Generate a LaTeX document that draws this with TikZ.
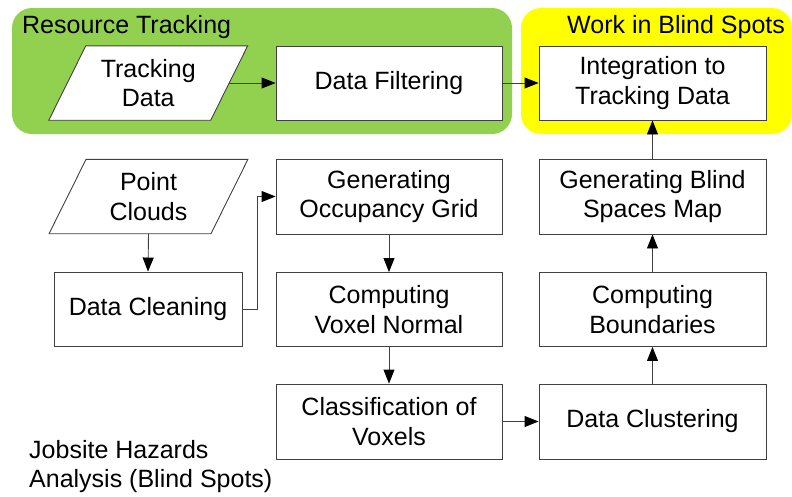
\documentclass[tikz,border=0pt]{standalone}
\usepackage{fontspec}
\setmainfont{Liberation Sans}
\usetikzlibrary{arrows.meta,calc}
\pgfdeclarelayer{bg}
\pgfdeclarelayer{mid}
\pgfsetlayers{bg,mid,main}
\definecolor{panelgreen}{RGB}{146,208,80}
\definecolor{panelyellow}{RGB}{255,255,0}
\definecolor{linegray}{RGB}{64,64,64}
\begin{document}
\begin{tikzpicture}[x=1pt,y=-1pt,
  every node/.style={font=\fontsize{25}{29.5}\selectfont, inner sep=0pt},
  stepbox/.style={draw=linegray, fill=white, line width=0.9pt, align=center,
    minimum width=226pt, minimum height=74pt},
  parabox/.style={align=center, minimum width=161.5pt, minimum height=74pt},
  paraline/.style={draw=linegray, fill=white, line width=0.9pt},
  panel/.style={rounded corners=20pt},
  conn/.style={draw=linegray, line width=0.9pt,
    -{Triangle[length=14pt,width=11pt,color=black]}},
  title/.style={anchor=base west}]
\useasboundingbox (0,0) rectangle (792,496);

% panels
\begin{pgfonlayer}{bg}
  \fill[panelgreen, panel] (12,8) rectangle (512,134);
  \fill[panelyellow, panel] (521,8) rectangle (792,134);
\end{pgfonlayer}

\node[title] (rt) at (22,33) {Resource Tracking};
\node[title] (wb) at (567,33) {Work in Blind Spots};

% top row
\node[parabox] (td) at (148.25,83) {Tracking\\Data};
\node[stepbox] (df) at (389,83) {Data Filtering};
\node[stepbox, minimum width=227pt] (ig) at (652.5,83) {Integration to\\Tracking Data};

% left column
\node[parabox] (pc) at (148.5,196.5) {Point\\Clouds};
\node[stepbox, minimum width=188pt] (dc) at (148,309) {Data Cleaning};

% middle column
\node[stepbox, minimum height=75pt] (og) at (389,196.5) {Generating\\Occupancy Grid};
\node[stepbox] (vn) at (389,309.5) {Computing\\Voxel Normal};
\node[stepbox, minimum height=75pt] (cv) at (389,421.5) {Classification of\\Voxels};

% right column
\node[stepbox, minimum width=227pt, minimum height=75pt] (bs) at (652.5,196.5) {Generating Blind\\Spaces Map};
\node[stepbox, minimum width=227pt] (cb) at (652.5,309.5) {Computing\\Boundaries};
\node[stepbox, minimum width=227pt, minimum height=75pt] (dk) at (652.5,421.5) {Data Clustering};

% parallelogram outlines
\begin{pgfonlayer}{mid}
  \draw[paraline] ([xshift=18.5pt]td.north west) -- ([xshift=18.5pt]td.north east)
    -- ([xshift=-18.5pt]td.south east) -- ([xshift=-18.5pt]td.south west) -- cycle;
  \draw[paraline] ([xshift=18.5pt]pc.north west) -- ([xshift=18.5pt]pc.north east)
    -- ([xshift=-18.5pt]pc.south east) -- ([xshift=-18.5pt]pc.south west) -- cycle;
\end{pgfonlayer}

\node[anchor=north west, align=left] (jh) at (29,440) {Jobsite Hazards\\Analysis (Blind Spots)};

% connectors
\draw[conn] (td.east) -- (df.west);
\draw[conn] (df.east) -- (ig.west);
\draw[conn] (pc.south) -- (dc.north);
\draw[conn] (dc.east) -- ++(15,0) |- (og.west);
\draw[conn] (og.south) -- (vn.north);
\draw[conn] (vn.south) -- (cv.north);
\draw[conn] (cv.east) -- (dk.west);
\draw[conn] (dk.north) -- (cb.south);
\draw[conn] (cb.north) -- (bs.south);
\draw[conn] (bs.north) -- (ig.south);
\end{tikzpicture}
\end{document}
